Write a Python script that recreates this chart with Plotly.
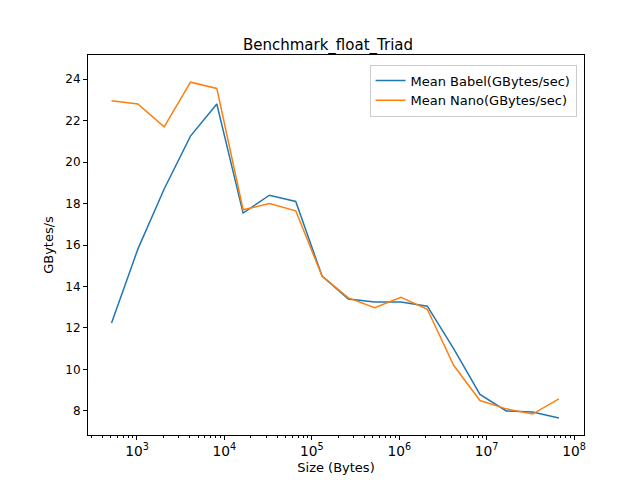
import plotly.graph_objects as go

sizes = [512, 1024, 2048, 4096, 8192, 16384, 32768, 65536, 131072, 262144, 524288,
         1048576, 2097152, 4194304, 8388608, 16777216, 33554432, 67108864]
babel = [12.24, 15.8, 18.7, 21.25, 22.8, 17.54, 18.4, 18.1, 14.5, 13.4, 13.25,
         13.25, 13.05, 11.0, 8.8, 8.0, 7.95, 7.66]
nano = [22.95, 22.8, 21.7, 23.85, 23.55, 17.7, 18.0, 17.65, 14.5, 13.45, 12.98,
        13.48, 12.9, 10.2, 8.5, 8.1, 7.85, 8.58]

fig = go.Figure()
fig.add_trace(go.Scatter(x=sizes, y=babel, mode="lines", name="Mean Babel(GBytes/sec)",
                         line=dict(color="#1f77b4", width=1.5)))
fig.add_trace(go.Scatter(x=sizes, y=nano, mode="lines", name="Mean Nano(GBytes/sec)",
                         line=dict(color="#ff7f0e", width=1.5)))

axis_common = dict(showgrid=False, zeroline=False, showline=True, mirror=True,
                   linecolor="black", linewidth=1, ticks="outside", ticklen=4,
                   tickcolor="black", automargin=False)
fig.update_layout(
    width=640, height=480, paper_bgcolor="white", plot_bgcolor="white",
    margin=dict(l=80, r=64, t=47, b=53, autoexpand=False),
    font=dict(family="DejaVu Sans", color="black"),
    title=dict(text="Benchmark_float_Triad", x=0.5, xanchor="center", y=0.935,
               font=dict(size=15), automargin=False),
    xaxis=dict(type="log", range=[2.44, 8.114], dtick=1, exponentformat="power",
               tickfont=dict(size=11, color="black"),
               title=dict(text="Size (Bytes)", font=dict(size=13), standoff=4),
               minor=dict(ticks="outside", ticklen=2, tickcolor="black", showgrid=False),
               **axis_common),
    yaxis=dict(range=[6.84, 25.16], dtick=2, tickfont=dict(size=12, color="black"),
               title=dict(text="GBytes/s", font=dict(size=13), standoff=8),
               **axis_common),
    legend=dict(x=0.985, y=0.975, xanchor="right", yanchor="top",
                bordercolor="#cccccc", borderwidth=1, bgcolor="rgba(255,255,255,0.8)",
                font=dict(size=13)),
)
fig.write_html("out.html")
